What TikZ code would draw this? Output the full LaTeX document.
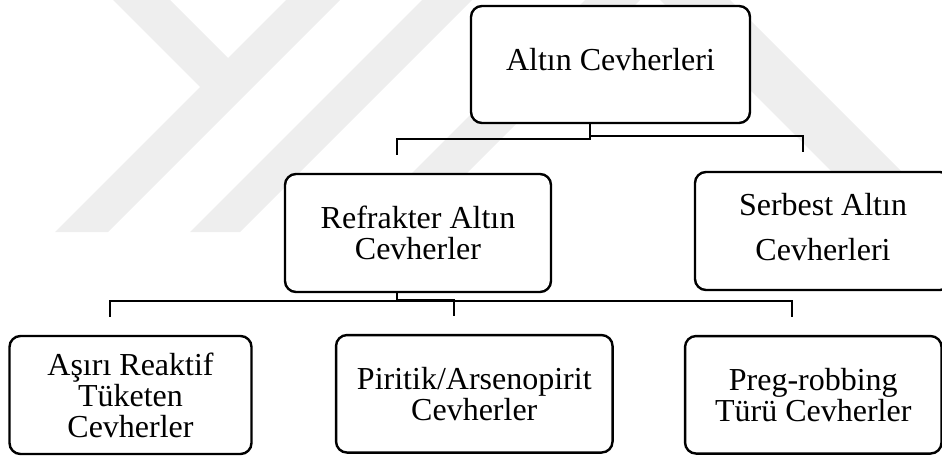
\documentclass[tikz,border=0pt]{standalone}
\usepackage{fontspec}
\setmainfont{Liberation Serif}
\usetikzlibrary{calc}
\definecolor{wm}{RGB}{238,238,238}
\tikzset{
  box/.style={draw, line width=2.4pt, rounded corners=11pt, fill=white,
    align=center, inner sep=0pt, font=\fontsize{32}{31}\selectfont},
  conn/.style={line width=2pt}
}
\begin{document}
\begin{tikzpicture}[x=1pt, y=-1pt]
\clip (0,0) rectangle (942,457);

% faint background emblem
\fill[wm] (113,0) -- (170,0) -- (228,58) -- (286,0) -- (340,0) -- (108,232)
  -- (55,232) -- (200,87) -- cycle;
\fill[wm] (422,0) -- (472,0) -- (240,232) -- (190,232) -- cycle;
\fill[wm] (585,0) -- (640,0) -- (408,232) -- (353,232) -- cycle;
\fill[wm] (660,0) -- (730,0) -- (962,232) -- (892,232) -- cycle;

% boxes
\node[box, minimum width=279pt, minimum height=117pt] (root) at (610.5,64.5) {Altın Cevherleri\\[-21pt]\mbox{}};
\node[box, minimum width=266pt, minimum height=118pt] (refr) at (418,233) {Refrakter Altın\\Cevherler};
\node[box, minimum width=256pt, minimum height=118pt] (free) at (823,231) {Serbest Altın\\[14pt]Cevherleri\\[-22pt]\mbox{}};
\node[box, minimum width=242pt, minimum height=118pt] (reac) at (130.5,395) {Aşırı Reaktif\\Tüketen\\Cevherler};
\node[box, minimum width=276.5pt, minimum height=117.5pt] (pyr) at (474.3,393.8) {Piritik/Arsenopirit\\Cevherler};
\node[box, minimum width=256.5pt, minimum height=117.5pt] (preg) at (813.3,394.8) {Preg-robbing\\Türü Cevherler};

% upper connector
\coordinate (t1) at (590,139);
\coordinate (t1b) at (590,136);
\coordinate (t2) at (397,155);
\coordinate (t3) at (803,152);
\draw[conn] (root.south -| t1) -- (t1) -| (t2);
\draw[conn] (t1b) -| (t3);

% lower connector
\coordinate (b1) at (397,301);
\coordinate (b1b) at (397,299.5);
\coordinate (b2) at (110,317);
\coordinate (b3) at (454,316);
\coordinate (b4) at (792,317);
\draw[conn] (refr.south -| b1) -- (b1) -| (b2);
\draw[conn] (b1b) -| (b3);
\draw[conn] (b1) -| (b4);
\end{tikzpicture}
\end{document}
